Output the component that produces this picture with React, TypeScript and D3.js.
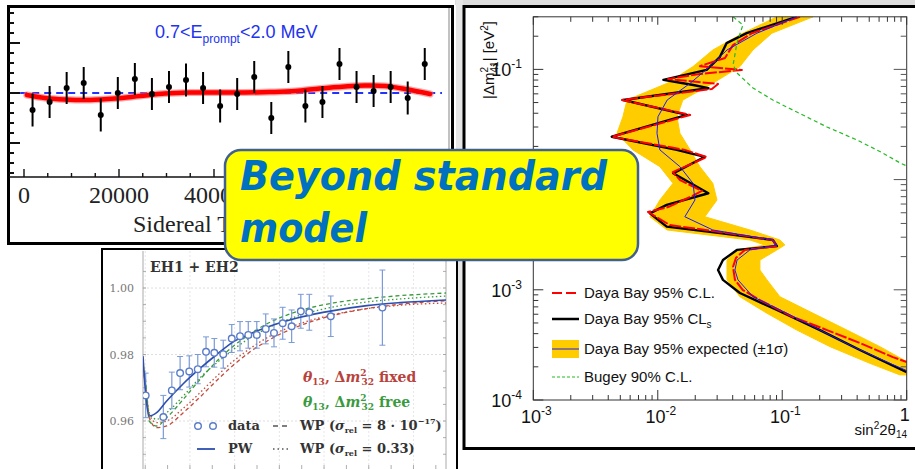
import React from "react";
import * as d3 from "d3";

const W = 915;
const H = 469;

/* ---------- Sidereal-time modulation, 0.7 < E_prompt < 2.0 MeV ---------- */
const siderealTime = [1800, 5390, 8980, 12570, 16160, 19750, 23340, 26930, 30520, 34110, 37700, 41290,
  44880, 48470, 52060, 55650, 59240, 62830, 66420, 70010, 73600, 77190, 80780, 84370];
const siderealRatio = [0.9932, 0.9964, 1.002, 1.004, 0.9912, 1.0, 1.0056, 0.9996, 1.0024, 1.0052, 1.002, 0.9948,
  0.9996, 1.0064, 0.99, 1.0104, 0.9948, 0.9964, 1.0116, 1.0024, 1.0008, 1.0024, 0.998, 1.0116];
const siderealErr = [0.0066, 0.0064, 0.0064, 0.0064, 0.0066, 0.0064, 0.0064, 0.0064, 0.0064, 0.0066, 0.0064, 0.0066,
  0.0064, 0.0064, 0.0064, 0.0064, 0.0066, 0.0064, 0.0064, 0.0064, 0.0064, 0.0064, 0.0066, 0.0064];
const fitTime = [600, 4400, 8600, 13900, 19200, 24400, 29700, 34900, 40200, 46500, 51800, 57100, 62300, 67600,
  71800, 76000, 80200, 85500];
const fitRatio = [0.9992, 0.998, 0.9974, 0.9972, 0.9978, 0.9988, 0.9998, 1.0002, 1.0002, 1.0002, 1.0004, 1.0008,
  1.0018, 1.0026, 1.003, 1.0028, 1.0016, 0.9996];
const timeTickLabels = ["0", "20000", "40000"];

/* ---------- EH1 + EH2 ratio and wave-packet models ---------- */
const ratioE = [0.02, 0.81, 1.19, 1.56, 1.97, 2.35, 2.72, 3.09, 3.49, 3.87, 4.24, 4.61, 4.99, 5.39, 5.76, 6.15,
  6.55, 6.96, 7.34, 8.3, 10.61];
const ratioVal = [0.9677, 0.9612, 0.9692, 0.9744, 0.9749, 0.9756, 0.9808, 0.9805, 0.9801, 0.9848, 0.9855, 0.9859,
  0.9859, 0.9877, 0.9865, 0.9894, 0.9885, 0.993, 0.9927, 0.9915, 0.9941];
const ratioErr = [0.0067, 0.0065, 0.0055, 0.005, 0.0047, 0.0044, 0.0045, 0.0043, 0.0042, 0.0042, 0.0044, 0.004,
  0.004, 0.0045, 0.0042, 0.0048, 0.0049, 0.0051, 0.0054, 0.0061, 0.0113];
const modelE = [-0.1, 0.02, 0.18, 0.51, 0.96, 1.7, 2.45, 3.2, 3.94, 4.69, 5.44, 6.93, 8.42, 9.91, 11.4, 13.49];
const pwModel = [0.9795, 0.968, 0.9615, 0.9625, 0.966, 0.9712, 0.9758, 0.98, 0.9838, 0.9862, 0.9882, 0.9912,
  0.9932, 0.9947, 0.9956, 0.9964];
const wpFreeSmall = [0.977, 0.972, 0.96, 0.9585, 0.961, 0.9665, 0.9725, 0.978, 0.9825, 0.9862, 0.9892, 0.9932,
  0.9955, 0.9968, 0.9977, 0.9985];
const wpFreeLarge = [0.977, 0.971, 0.9625, 0.9605, 0.9625, 0.9675, 0.973, 0.9775, 0.9815, 0.985, 0.9878, 0.9918,
  0.9943, 0.9958, 0.9967, 0.9976];
const wpFixedSmall = [0.976, 0.97, 0.961, 0.958, 0.9585, 0.9625, 0.9672, 0.9722, 0.9768, 0.9808, 0.984, 0.9887,
  0.9918, 0.9938, 0.9951, 0.9962];
const wpFixedLarge = [0.9765, 0.971, 0.962, 0.9595, 0.96, 0.9638, 0.9685, 0.9735, 0.978, 0.9818, 0.985, 0.9893,
  0.992, 0.9938, 0.9948, 0.9955];
const ratioTickLabels = ["0.96", "0.98", "1.00"];

/* ---------- Sterile-neutrino exclusion (sin^2 2θ14 vs |Δm^2_41|) ---------- */
const clDm = [0.3, 0.213, 0.166, 0.127, 0.107, 0.0989, 0.0908, 0.0818, 0.0738, 0.0664, 0.0527, 0.0386, 0.0244,
  0.0186, 0.016, 0.0117, 0.00991, 0.00789, 0.00695, 0.00563, 0.00508, 0.00387, 0.00327, 0.00283, 0.00249, 0.0023,
  0.00195, 0.00161, 0.00123, 0.000995, 0.000807, 0.000566, 0.000431, 0.000329, 0.000245, 0.000221];
const clSin = [0.139, 0.0571, 0.0402, 0.0347, 0.0218, 0.0474, 0.0218, 0.0121, 0.0305, 0.0272, 0.00515, 0.0182,
  0.00428, 0.0165, 0.0248, 0.0132, 0.0151, 0.0226, 0.0182, 0.0121, 0.00834, 0.0125, 0.036, 0.0841, 0.0906, 0.0501,
  0.0425, 0.0402, 0.0417, 0.0483, 0.0662, 0.122, 0.229, 0.421, 0.774, 1.0];
const clsDm = [0.3, 0.213, 0.173, 0.13, 0.0989, 0.0802, 0.0721, 0.0675, 0.0527, 0.0386, 0.0245, 0.0186, 0.0161,
  0.0114, 0.00752, 0.00589, 0.00494, 0.00374, 0.00327, 0.00283, 0.00249, 0.0023, 0.00186, 0.00151, 0.00123,
  0.000935, 0.000656, 0.000431, 0.000284, 0.000179];
const clsSin = [0.131, 0.0518, 0.0357, 0.0316, 0.0247, 0.0111, 0.0193, 0.0255, 0.00528, 0.0171, 0.00427, 0.0142,
  0.0239, 0.0133, 0.0255, 0.0118, 0.00865, 0.0118, 0.0316, 0.0841, 0.0906, 0.0432, 0.0334, 0.0305, 0.0334, 0.0457,
  0.0906, 0.201, 0.421, 1.0];
const expDm = [0.3, 0.213, 0.15, 0.106, 0.0748, 0.0527, 0.0372, 0.0263, 0.0186, 0.0131, 0.00925, 0.00653, 0.0046,
  0.00349, 0.00283, 0.00255, 0.0023, 0.00186, 0.00151, 0.00123, 0.000865, 0.000612, 0.000431, 0.000305, 0.000215,
  0.000169];
const expLo = [0.0906, 0.0483, 0.0277, 0.0192, 0.0119, 0.00566, 0.00525, 0.0047, 0.00632, 0.0104, 0.01325, 0.0104,
  0.00865, 0.0119, 0.055, 0.0726, 0.0433, 0.036, 0.036, 0.036, 0.0457, 0.0754, 0.131, 0.242, 0.506, 0.882];
const expMid = [0.131, 0.0626, 0.036, 0.0262, 0.0182, 0.0119, 0.01004, 0.00986, 0.0104, 0.01507, 0.0192, 0.0199,
  0.0165, 0.0277, 0.0841, 0.0906, 0.055, 0.0433, 0.0417, 0.0441, 0.0582, 0.109, 0.201, 0.37, 0.733, 1.2];
const expHi = [0.177, 0.0826, 0.0582, 0.0457, 0.0277, 0.0159, 0.01426, 0.01507, 0.0182, 0.0218, 0.0277, 0.0299,
  0.0239, 0.055, 0.0958, 0.105, 0.0906, 0.0662, 0.0662, 0.0754, 0.0958, 0.177, 0.331, 0.609, 1.06, 1.5];
const bugeyDm = [0.3, 0.253, 0.174, 0.11, 0.0927, 0.0678, 0.0527, 0.041, 0.03, 0.0229, 0.0174, 0.0142, 0.0133];
const bugeySin = [0.0403, 0.0483, 0.0433, 0.0403, 0.0433, 0.0582, 0.0841, 0.131, 0.229, 0.398, 0.644, 0.881, 1.0];
const exclusionLegend = ["Daya Bay 95% C.L.", "Daya Bay 95% CL", "Daya Bay 95% expected (±1σ)", "Bugey 90% C.L."];
const dmLabelDecades = [-4, -3, -1];
const sinLabelDecades = [-3, -2, -1];

const SANS = "Liberation Sans, Arial, sans-serif";
const TIMES = "Liberation Serif, Times New Roman, serif";
const CMR = "DejaVu Serif, serif";

export default function App() {
  /* ---- sidereal panel ---- */
  const ax = d3.scaleLinear().domain([0, 20000]).range([24, 119]);
  const ay = d3.scaleLinear().domain([1, 1.02]).range([93, 43]);
  const fitPath = d3
    .line<number>()
    .x((_, i) => ax(fitTime[i]))
    .y((d) => ay(d))
    .curve(d3.curveCatmullRom)(fitRatio) as string;
  const ayTicks = d3.range(-8, 9).map((k) => ({ v: 1 + k * 0.004, major: k % 5 === 0 }));
  const axTicks = d3.range(0, 18).map((k) => ({ v: k * 5000, major: k % 4 === 0 }));

  /* ---- ratio panel ---- */
  const bx = d3.scaleLinear().domain([-0.1, 13.5]).range([143, 447]);
  const by = d3.scaleLinear().domain([0.96, 1.0]).range([421, 288]);
  const modelLine = (vals: number[]) =>
    d3
      .line<number>()
      .x((_, i) => bx(modelE[i]))
      .y((d) => by(d))
      .curve(d3.curveMonotoneX)(vals) as string;
  const byTicks = d3.range(0, 13).map((k) => 0.945 + k * 0.005);

  /* ---- exclusion panel ---- */
  const cx = d3.scaleLog().domain([1e-3, 1]).range([533.3, 906.7]);
  const cy = d3.scaleLog().domain([1e-4, 0.3]).range([400, 16.8]);
  const contour = (sinArr: number[], dmArr: number[]) =>
    d3
      .line<number>()
      .x((d) => cx(d))
      .y((_, i) => cy(dmArr[i]))(sinArr) as string;
  const bandPath = d3
    .area<number>()
    .y((d) => cy(d))
    .x0((_, i) => cx(expLo[i]))
    .x1((_, i) => cx(expHi[i]))(expDm) as string;
  const xLogTicks: { v: number; major: boolean }[] = [];
  for (let d = -3; d <= -1; d++) for (let k = 1; k <= 9; k++) xLogTicks.push({ v: k * Math.pow(10, d), major: k === 1 });
  xLogTicks.push({ v: 1, major: true });
  const yLogTicks: { v: number; major: boolean }[] = [];
  for (let d = -4; d <= -1; d++)
    for (let k = 1; k <= 9; k++) {
      const v = k * Math.pow(10, d);
      if (v <= 0.3001) yLogTicks.push({ v, major: k === 1 });
    }
  const cLeft = cx(1e-3);
  const cRight = cx(1);
  const cTop = cy(0.3);
  const cBottom = cy(1e-4);

  return (
    <svg
      width={W}
      height={H}
      viewBox={`0 0 ${W} ${H}`}
      style={{ position: "absolute", left: 0, top: 0, display: "block", background: "#fff" }}
    >
      <defs>
        <clipPath id="clipB">
          <rect x={143} y={251} width={303} height={218} />
        </clipPath>
        <clipPath id="clipC">
          <rect x={cLeft} y={cTop} width={cRight - cLeft} height={cBottom - cTop} />
        </clipPath>
      </defs>

      {/* slide remnants behind the figures */}
      <rect x={455} y={0} width={460} height={5} fill="#dcdcdc" />
      <rect x={456} y={0} width={7} height={420} fill="#e6e6e6" />

      {/* ================= sidereal panel ================= */}
      <g>
        <rect x={8.5} y={6.5} width={444} height={237} fill="#fff" stroke="#000" strokeWidth={3} />
        <line x1={449} x2={449} y1={8} y2={177} stroke="#999" strokeWidth={1.2} />
        <line x1={9} x2={449} y1={177} y2={177} stroke="#111" strokeWidth={1.6} />
        {ayTicks.map((t, i) => (
          <line key={i} x1={9} x2={t.major ? 20 : 14} y1={ay(t.v)} y2={ay(t.v)} stroke="#111" strokeWidth={2} />
        ))}
        {axTicks.map((t, i) => (
          <line key={i} x1={ax(t.v)} x2={ax(t.v)} y1={177} y2={t.major ? 169 : 173} stroke="#111" strokeWidth={1.4} />
        ))}
        {timeTickLabels.map((lab, i) => (
          <text key={lab} x={ax(i * 20000)} y={203} textAnchor="middle" fontFamily={TIMES} fontSize={24} fill="#222">
            {lab}
          </text>
        ))}
        <text x={133} y={232} fontFamily={TIMES} fontSize={24} fill="#222">
          Sidereal Time
        </text>
        <text x={155} y={38} fontFamily={SANS} fontSize={18} fill="#2233ee">
          0.7&lt;E<tspan fontSize={12} dy={5}>prompt</tspan>
          <tspan dy={-5}>&lt;2.0 MeV</tspan>
        </text>
        <line x1={ax(-800)} x2={ax(88000)} y1={ay(1)} y2={ay(1)} stroke="#2233ff" strokeWidth={2} strokeDasharray="7,5" />
        <path d={fitPath} fill="none" stroke="#ff6b6b" strokeWidth={7} strokeLinecap="round" opacity={0.6} />
        <path d={fitPath} fill="none" stroke="#ff0000" strokeWidth={4.5} strokeLinecap="round" />
        {siderealTime.map((t, i) => (
          <g key={i}>
            <line
              x1={ax(t)}
              x2={ax(t)}
              y1={ay(siderealRatio[i] + siderealErr[i])}
              y2={ay(siderealRatio[i] - siderealErr[i])}
              stroke="#000"
              strokeWidth={2}
            />
            <circle cx={ax(t)} cy={ay(siderealRatio[i])} r={3} fill="#000" />
          </g>
        ))}
      </g>

      {/* ================= ratio panel ================= */}
      <g>
        <rect x={102} y={249} width={355} height={230} fill="#fff" stroke="#000" strokeWidth={2} />
        {ratioTickLabels.map((lab, i) => (
          <g key={lab}>
            <line x1={143} x2={446} y1={by(0.96 + i * 0.02)} y2={by(0.96 + i * 0.02)} stroke="#d6d6d6" strokeWidth={0.8} strokeDasharray="2,2" />
            <text x={134} y={by(0.96 + i * 0.02) + 4} textAnchor="end" fontFamily={CMR} fontSize={11} fill="#777">
              {lab}
            </text>
          </g>
        ))}
        {d3.range(0, 14, 2).map((v) => (
          <line key={v} x1={bx(v)} x2={bx(v)} y1={251} y2={469} stroke="#e0e0e0" strokeWidth={0.8} strokeDasharray="2,2" />
        ))}
        <line x1={143} x2={143} y1={251} y2={469} stroke="#aaa" strokeWidth={1} />
        <line x1={446} x2={446} y1={251} y2={469} stroke="#aaa" strokeWidth={1} />
        {byTicks.map((v, i) => (
          <g key={i}>
            <line x1={143} x2={146} y1={by(v)} y2={by(v)} stroke="#999" strokeWidth={0.8} />
            <line x1={443} x2={446} y1={by(v)} y2={by(v)} stroke="#999" strokeWidth={0.8} />
          </g>
        ))}
        {d3.range(0, 14).map((v) => (
          <line key={v} x1={bx(v)} x2={bx(v)} y1={469} y2={465} stroke="#999" strokeWidth={0.8} />
        ))}
        <g clipPath="url(#clipB)">
          <path d={modelLine(wpFixedLarge)} fill="none" stroke="#c44a3c" strokeWidth={1.3} strokeDasharray="1.5,2.5" />
          <path d={modelLine(wpFixedSmall)} fill="none" stroke="#c44a3c" strokeWidth={1.3} strokeDasharray="4,3" />
          <path d={modelLine(wpFreeLarge)} fill="none" stroke="#3a9a3e" strokeWidth={1.3} strokeDasharray="1.5,2.5" />
          <path d={modelLine(wpFreeSmall)} fill="none" stroke="#3a9a3e" strokeWidth={1.3} strokeDasharray="4,3" />
          {ratioE.map((e, i) => (
            <g key={i}>
              <line x1={bx(e)} x2={bx(e)} y1={by(ratioVal[i] + ratioErr[i])} y2={by(ratioVal[i] - ratioErr[i])} stroke="#7b9ad6" strokeWidth={1.2} />
              <line x1={bx(e) - 3} x2={bx(e) + 3} y1={by(ratioVal[i] + ratioErr[i])} y2={by(ratioVal[i] + ratioErr[i])} stroke="#7b9ad6" strokeWidth={1} />
              <line x1={bx(e) - 3} x2={bx(e) + 3} y1={by(ratioVal[i] - ratioErr[i])} y2={by(ratioVal[i] - ratioErr[i])} stroke="#7b9ad6" strokeWidth={1} />
            </g>
          ))}
          <path d={modelLine(pwModel)} fill="none" stroke="#2c4fb0" strokeWidth={1.6} />
          {ratioE.map((e, i) => (
            <circle key={i} cx={bx(e)} cy={by(ratioVal[i])} r={3.3} fill="#fff" stroke="#5a7cc8" strokeWidth={1.4} />
          ))}
        </g>
        <text x={150} y={272} fontFamily={CMR} fontWeight="bold" fontSize={14} fill="#333">
          EH1 + EH2
        </text>
        <text x={303} y={382} fontFamily={CMR} fontWeight="bold" fontSize={14} fill="#b8433c">
          <tspan fontStyle="italic">θ</tspan>
          <tspan fontSize={9} dy={3}>13</tspan>
          <tspan dy={-3}>, Δ</tspan>
          <tspan fontStyle="italic">m</tspan>
          <tspan fontSize={9} dy={-6}>2</tspan>
          <tspan fontSize={9} dx={-5} dy={9}>32</tspan>
          <tspan dy={-3}> fixed</tspan>
        </text>
        <text x={303} y={407} fontFamily={CMR} fontWeight="bold" fontSize={14} fill="#3a9a3e">
          <tspan fontStyle="italic">θ</tspan>
          <tspan fontSize={9} dy={3}>13</tspan>
          <tspan dy={-3}>, Δ</tspan>
          <tspan fontStyle="italic">m</tspan>
          <tspan fontSize={9} dy={-6}>2</tspan>
          <tspan fontSize={9} dx={-5} dy={9}>32</tspan>
          <tspan dy={-3}> free</tspan>
        </text>
        <circle cx={198} cy={426} r={3.3} fill="#fff" stroke="#5a7cc8" strokeWidth={1.4} />
        <circle cx={213} cy={426} r={3.3} fill="#fff" stroke="#5a7cc8" strokeWidth={1.4} />
        <text x={228} y={430} fontFamily={CMR} fontWeight="bold" fontSize={13} fill="#333">data</text>
        <line x1={273} x2={291} y1={426} y2={426} stroke="#555" strokeWidth={1.5} strokeDasharray="5,4" />
        <text x={300} y={430} fontFamily={CMR} fontWeight="bold" fontSize={13} fill="#333">
          WP (<tspan fontStyle="italic">σ</tspan>
          <tspan fontSize={8} dy={3}>rel</tspan>
          <tspan dy={-3}> = 8 · 10</tspan>
          <tspan fontSize={8} dy={-6}>−17</tspan>
          <tspan dy={6}>)</tspan>
        </text>
        <line x1={197} x2={215} y1={449} y2={449} stroke="#2c4fb0" strokeWidth={1.8} />
        <text x={228} y={453} fontFamily={CMR} fontWeight="bold" fontSize={13} fill="#333">PW</text>
        <line x1={273} x2={291} y1={449} y2={449} stroke="#555" strokeWidth={1.5} strokeDasharray="1.5,3" />
        <text x={300} y={453} fontFamily={CMR} fontWeight="bold" fontSize={13} fill="#333">
          WP (<tspan fontStyle="italic">σ</tspan>
          <tspan fontSize={8} dy={3}>rel</tspan>
          <tspan dy={-3}> = 0.33)</tspan>
        </text>
      </g>

      {/* ================= exclusion panel ================= */}
      <g>
        <rect x={464} y={6.5} width={470} height={442} fill="#fff" stroke="#000" strokeWidth={3} />
        <g clipPath="url(#clipC)">
          <path d={bandPath} fill="#ffcc00" stroke="#ffcc00" strokeWidth={1} />
          <path d={contour(clsSin, clsDm)} fill="none" stroke="#000" strokeWidth={2.4} strokeLinejoin="round" />
          <path d={contour(clSin, clDm)} fill="none" stroke="#ff0000" strokeWidth={2} strokeDasharray="12,2" strokeLinejoin="round" />
          <path d={contour(expMid, expDm)} fill="none" stroke="#1a1aff" strokeWidth={1} />
          <path d={contour(bugeySin, bugeyDm)} fill="none" stroke="#22bb22" strokeWidth={1.2} strokeDasharray="4,3" />
        </g>
        <rect x={cLeft} y={cTop} width={cRight - cLeft} height={cBottom - cTop} fill="none" stroke="#333" strokeWidth={1} />
        {xLogTicks.map((t, i) => (
          <g key={i}>
            <line x1={cx(t.v)} x2={cx(t.v)} y1={cBottom} y2={cBottom - (t.major ? 10 : 5)} stroke="#333" strokeWidth={1} />
            <line x1={cx(t.v)} x2={cx(t.v)} y1={cTop} y2={cTop + (t.major ? 8 : 5)} stroke="#333" strokeWidth={1} />
          </g>
        ))}
        {yLogTicks.map((t, i) => (
          <g key={i}>
            <line x1={cLeft} x2={cLeft + (t.major ? 10 : 5)} y1={cy(t.v)} y2={cy(t.v)} stroke="#333" strokeWidth={1} />
            <line x1={cRight} x2={cRight - (t.major ? 13 : 6)} y1={cy(t.v)} y2={cy(t.v)} stroke="#555" strokeWidth={1} />
          </g>
        ))}
        {sinLabelDecades.map((d) => (
          <text key={d} x={cx(Math.pow(10, d)) + 3} y={423} textAnchor="middle" fontFamily={SANS} fontSize={18} fill="#111">
            10<tspan fontSize={12} dy={-8}>{d}</tspan>
          </text>
        ))}
        <text x={cx(1) - 2} y={421} textAnchor="middle" fontFamily={SANS} fontSize={18} fill="#111">1</text>
        {dmLabelDecades.map((d) => (
          <text key={d} x={522} y={cy(Math.pow(10, d)) + 7} textAnchor="end" fontFamily={SANS} fontSize={18} fill="#111">
            10<tspan fontSize={12} dy={-8}>{d}</tspan>
          </text>
        ))}
        <text transform="translate(494,60) rotate(-90)" textAnchor="middle" fontFamily={SANS} fontSize={15} fill="#111">
          |Δm<tspan fontSize={10} dy={-6}>2</tspan>
          <tspan fontSize={10} dx={-5.5} dy={10}>41</tspan>
          <tspan dy={-4}>| [eV</tspan>
          <tspan fontSize={10} dy={-6}>2</tspan>
          <tspan dy={6}>]</tspan>
        </text>
        <text x={907} y={435} textAnchor="end" fontFamily={SANS} fontSize={15} fill="#111">
          sin<tspan fontSize={10} dy={-6}>2</tspan>
          <tspan dy={6}>2θ</tspan>
          <tspan fontSize={10} dy={3}>14</tspan>
        </text>
        {/* legend */}
        <line x1={552} x2={579} y1={293} y2={293} stroke="#ff0000" strokeWidth={2} strokeDasharray="10,4" />
        <line x1={552} x2={579} y1={319} y2={319} stroke="#000" strokeWidth={2.5} />
        <rect x={552} y={340} width={27} height={18} fill="#ffcc00" />
        <line x1={552} x2={579} y1={349} y2={349} stroke="#1a1aff" strokeWidth={1} />
        <line x1={552} x2={579} y1={377} y2={377} stroke="#22bb22" strokeWidth={1.2} strokeDasharray="3,2" />
        <text x={584} y={298} fontFamily={SANS} fontSize={15} fill="#111">{exclusionLegend[0]}</text>
        <text x={584} y={324} fontFamily={SANS} fontSize={15} fill="#111">
          {exclusionLegend[1]}
          <tspan fontSize={10} dy={4}>s</tspan>
        </text>
        <text x={584} y={354} fontFamily={SANS} fontSize={15} fill="#111">{exclusionLegend[2]}</text>
        <text x={584} y={382} fontFamily={SANS} fontSize={15} fill="#111">{exclusionLegend[3]}</text>
      </g>

      {/* ================= callout ================= */}
      <g>
        <rect x={225} y={150} width={413} height={110} rx={16} ry={16} fill="#ffff00" stroke="#41608f" strokeWidth={2.5} />
        <text
          x={240}
          y={190}
          fontFamily="DejaVu Sans, sans-serif"
          fontWeight="bold"
          fontStyle="italic"
          fontSize={40}
          fill="#0070c0"
          textLength={367}
          lengthAdjust="spacingAndGlyphs"
        >
          Beyond standard
        </text>
        <text
          x={240}
          y={242}
          fontFamily="DejaVu Sans, sans-serif"
          fontWeight="bold"
          fontStyle="italic"
          fontSize={40}
          fill="#0070c0"
          textLength={127}
          lengthAdjust="spacingAndGlyphs"
        >
          model
        </text>
      </g>
    </svg>
  );
}
